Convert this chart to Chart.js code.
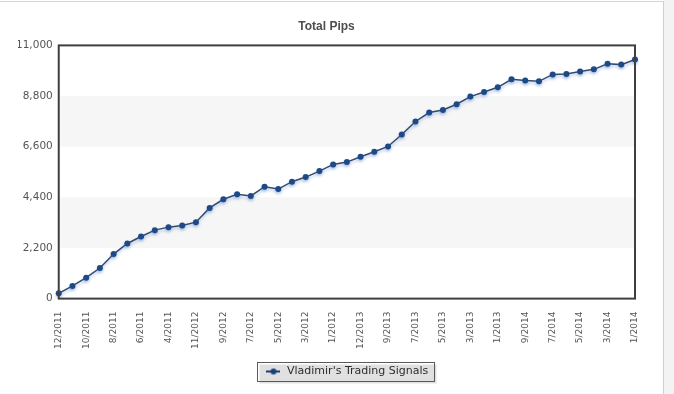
<!DOCTYPE html>
<html>
<head>
<meta charset="utf-8">
<script src="https://cdn.jsdelivr.net/npm/chart.js@4/dist/chart.umd.min.js"></script>
<style>
  html, body { margin: 0; padding: 0; background: #fff; }
  #wrap { position: relative; width: 674px; height: 394px; overflow: hidden; }
  #side { position: absolute; left: 664px; top: 0; width: 10px; height: 394px; background: #f3f3f3; }
  #frame { position: absolute; left: 0; top: 1px; width: 663px; height: 400px;
           border-top: 1px solid #d4d4d4; border-right: 1px solid #cfcfcf; pointer-events: none; }
  canvas { position: absolute; left: 0; top: 0; }
</style>
</head>
<body>
<div id="wrap">
  <div id="side"></div>
  <canvas id="pips-chart" width="674" height="394"></canvas>
  <div id="frame"></div>
</div>
<script>
// 차트 데이터
const tickLabels = ['12/2011', '10/2011', '8/2011', '6/2011', '4/2011', '11/2012',
  '9/2012', '7/2012', '5/2012', '3/2012', '1/2012', '12/2013', '9/2013', '7/2013',
  '5/2013', '3/2013', '1/2013', '9/2014', '7/2014', '5/2014', '3/2014', '1/2014'];

const pipValues = [230, 550, 910, 1330, 1935, 2395, 2700, 2975, 3105, 3175,
  3320, 3940, 4315, 4530, 4460, 4860, 4760, 5080, 5280, 5540,
  5830, 5930, 6160, 6380, 6610, 7130, 7695, 8085, 8195, 8445,
  8775, 8975, 9180, 9525, 9470, 9440, 9740, 9755, 9870, 9960,
  10205, 10165, 10390];

const seriesName = "Vladimir's Trading Signals";
const yTicks = [0, 2200, 4400, 6600, 8800, 11000];
const bands = [[2200, 4400], [6600, 8800]];

// 라벨은 두 점마다 하나
const categories = pipValues.map((_, i) => (i % 2 === 0 ? tickLabels[i / 2] || '' : ''));

const lineColor = '#1d4a86';

// 범례 마커 (선 + 점)
const marker = document.createElement('canvas');
marker.width = 14;
marker.height = 8;
(() => {
  const c = marker.getContext('2d');
  c.strokeStyle = lineColor;
  c.lineWidth = 2;
  c.beginPath();
  c.moveTo(0, 4);
  c.lineTo(14, 4);
  c.stroke();
  c.fillStyle = lineColor;
  c.beginPath();
  c.arc(7, 4, 3, 0, Math.PI * 2);
  c.fill();
})();

// 배경 띠 + 테두리 + 범례 박스
const decorPlugin = {
  id: 'decor',
  beforeDatasetsDraw(chart) {
    const { ctx, chartArea: a, scales: { y } } = chart;
    ctx.save();
    ctx.fillStyle = '#f6f6f6';
    bands.forEach(([lo, hi]) => {
      const top = y.getPixelForValue(hi);
      const bot = y.getPixelForValue(lo);
      ctx.fillRect(a.left, top, a.right - a.left, bot - top);
    });
    ctx.restore();
  },
  afterDatasetsDraw(chart) {
    const { ctx, chartArea: a } = chart;
    ctx.save();
    ctx.strokeStyle = '#3f3f3f';
    ctx.lineWidth = 2;
    ctx.strokeRect(a.left, a.top, a.right - a.left, a.bottom - a.top);
    ctx.restore();
  },
  afterDraw(chart) {
    const hb = chart.legend && chart.legend.legendHitBoxes[0];
    if (!hb) return;
    const { ctx } = chart;
    const x = Math.round(hb.left) - 7.5;
    const yy = Math.round(hb.top + hb.height / 2) - 9.5;
    const w = Math.round(hb.width) + 14;
    const h = 19;
    ctx.save();
    ctx.fillStyle = 'rgba(0,0,0,0.12)';
    ctx.fillRect(x + 2, yy + 2, w, h);
    ctx.strokeStyle = '#5a5a5a';
    ctx.lineWidth = 1;
    ctx.strokeRect(x, yy, w, h);
    ctx.restore();
  },
};

// 선 그림자
const shadowPlugin = {
  id: 'lineShadow',
  beforeDatasetDraw(chart) {
    const ctx = chart.ctx;
    ctx.save();
    ctx.shadowColor = 'rgba(90,130,200,0.45)';
    ctx.shadowBlur = 3;
    ctx.shadowOffsetY = 2;
  },
  afterDatasetDraw(chart) {
    chart.ctx.restore();
  },
};

new Chart(document.getElementById('pips-chart'), {
  type: 'line',
  data: {
    labels: categories,
    datasets: [
      {
        label: seriesName,
        data: pipValues,
        borderColor: '#324a6e',
        borderWidth: 1.5,
        pointBackgroundColor: lineColor,
        pointBorderColor: lineColor,
        pointRadius: 3,
        pointBorderWidth: 0,
        tension: 0,
        fill: false,
      },
    ],
  },
  options: {
    responsive: false,
    animation: false,
    layout: { padding: { left: 18, right: 39, top: 0, bottom: 7 } },
    plugins: {
      title: {
        display: true,
        text: 'Total Pips',
        color: '#4d4d4d',
        font: { family: "'Liberation Sans Narrow', 'Liberation Sans', sans-serif", size: 12, weight: 'bold' },
        padding: { top: 19, bottom: 12 },
      },
      legend: {
        position: 'bottom',
        fullSize: false,
        labels: {
          color: '#333',
          font: { family: "'DejaVu Sans', sans-serif", size: 11 },
          usePointStyle: true,
          pointStyleWidth: 16,
          padding: 12,
          generateLabels: (chart) =>
            Chart.defaults.plugins.legend.labels.generateLabels(chart).map((l) => ({
              ...l,
              pointStyle: marker,
            })),
        },
      },
      tooltip: { enabled: false },
    },
    scales: {
      x: {
        offset: false,
        grid: { display: false },
        border: { display: false },
        ticks: {
          autoSkip: false,
          maxRotation: 90,
          minRotation: 90,
          color: '#555',
          padding: 5,
          font: { family: "'DejaVu Sans', sans-serif", size: 9 },
        },
      },
      y: {
        min: 0,
        max: 11000,
        grid: { display: false },
        border: { display: false },
        afterBuildTicks: (axis) => {
          axis.ticks = yTicks.map((v) => ({ value: v }));
        },
        ticks: {
          color: '#555',
          padding: -2,
          font: { family: "'DejaVu Sans', sans-serif", size: 10.5 },
          callback: (v) => v.toLocaleString('en-US'),
        },
      },
    },
  },
  plugins: [decorPlugin, shadowPlugin],
});
</script>
</body>
</html>
